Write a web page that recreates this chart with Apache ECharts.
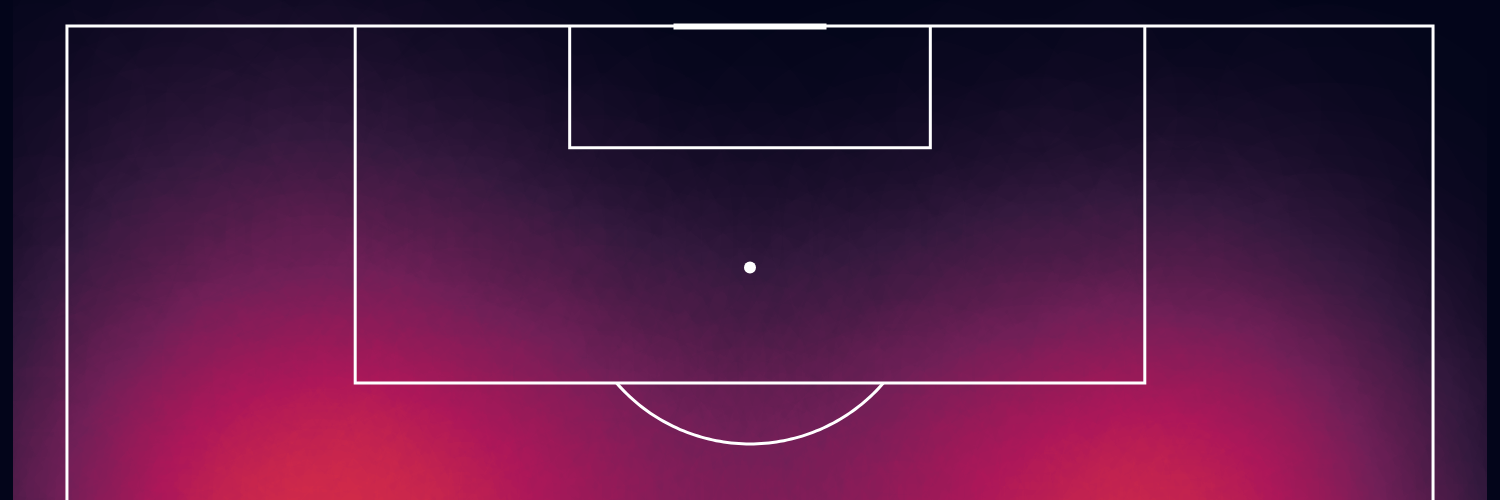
<!DOCTYPE html>
<html>
<head>
<meta charset="utf-8">
<script src="https://cdn.jsdelivr.net/npm/echarts@6/dist/echarts.min.js"></script>
<style>
html,body{margin:0;padding:0;background:#03051a;}
#c{width:1500px;height:500px;}
</style>
</head>
<body>
<div id="c"></div>
<script>
// Pitch coordinates: x across the pitch width (0-100), d = depth from the goal line (Opta-like units)
const colsX = [-2, 8, 18.5, 29, 39, 50, 61, 71, 81.5, 92, 102];
const rowsD = [-2, 4, 10, 16.5, 22.5, 28.5];
// estimated touch density (rows follow rowsD, columns follow colsX)
const density = [
  [0.02, 0.05, 0.05, 0.03, 0.00, 0.00, 0.00, 0.01, 0.02, 0.01, 0.00],
  [0.05, 0.15, 0.15, 0.10, 0.04, 0.00, 0.03, 0.06, 0.07, 0.05, 0.01],
  [0.10, 0.32, 0.32, 0.26, 0.19, 0.13, 0.16, 0.20, 0.21, 0.15, 0.02],
  [0.13, 0.43, 0.50, 0.41, 0.31, 0.25, 0.30, 0.36, 0.44, 0.34, 0.04],
  [0.20, 0.84, 1.10, 0.82, 0.52, 0.40, 0.52, 0.78, 1.12, 0.62, 0.07],
  [0.22, 0.92, 1.20, 0.86, 0.55, 0.42, 0.56, 0.84, 1.20, 0.66, 0.07]
];
const rocket = ['#03051a', '#35193e', '#701f57', '#ad1759', '#e13342', '#f37651', '#f6b48f', '#faebdd'];

// pitch markings (Opta-like units)
const outerLine = [[0, 40], [0, 0], [100, 0], [100, 40]];
const penaltyBox = [[21.1, 0], [21.1, 17], [78.9, 17], [78.9, 0]];
const sixYardBox = [[36.8, 0], [36.8, 5.8], [63.2, 5.8], [63.2, 0]];
const goalMouth = [[44.4, 0.02], [55.6, 0.02]];
const penaltySpot = [50, 11.5];
const arcRadius = [12.92, 8.40];
const boxDepth = 17;

const toGeo = p => [p[0], -p[1]];

const heatData = [];
rowsD.forEach((d, i) => {
  colsX.forEach((x, j) => {
    heatData.push([x, -d, density[i][j]]);
  });
});

const arcPts = [];
const t0 = Math.asin((boxDepth - penaltySpot[1]) / arcRadius[1]);
for (let k = 0; k <= 80; k++) {
  const t = t0 + (Math.PI - 2 * t0) * k / 80;
  arcPts.push([penaltySpot[0] + arcRadius[0] * Math.cos(t), penaltySpot[1] + arcRadius[1] * Math.sin(t)]);
}

echarts.registerMap('pitch', {
  type: 'FeatureCollection',
  features: [{
    type: 'Feature',
    properties: { name: 'pitch' },
    geometry: {
      type: 'Polygon',
      coordinates: [[[-3.95, 1.24], [103.95, 1.24], [103.95, -22.57], [-3.95, -22.57], [-3.95, 1.24]]]
    }
  }]
});

const chart = echarts.init(document.getElementById('c'));
const lineWhite = { color: '#ffffff', width: 3, opacity: 1 };
chart.setOption({
  backgroundColor: '#03051a',
  animation: false,
  geo: {
    map: 'pitch',
    roam: false,
    left: 13, top: 0, width: 1474, height: 500,
    silent: true,
    label: { show: false },
    itemStyle: { areaColor: 'rgba(0,0,0,0)', borderColor: 'rgba(0,0,0,0)', borderWidth: 0 },
    emphasis: { disabled: true },
    select: { disabled: true }
  },
  visualMap: {
    type: 'continuous',
    show: false,
    min: 0,
    max: 3.26,
    seriesIndex: 0,
    inRange: { color: rocket }
  },
  series: [
    {
      type: 'heatmap',
      coordinateSystem: 'geo',
      pointSize: 150,
      blurSize: 270,
      minOpacity: 1,
      maxOpacity: 1,
      silent: true,
      data: heatData
    },
    {
      type: 'lines',
      coordinateSystem: 'geo',
      polyline: true,
      silent: true,
      z: 5,
      lineStyle: lineWhite,
      data: [
        { coords: outerLine.map(toGeo) },
        { coords: penaltyBox.map(toGeo) },
        { coords: sixYardBox.map(toGeo) },
        { coords: arcPts.map(toGeo) },
        { coords: goalMouth.map(toGeo), lineStyle: { color: '#ffffff', width: 6 } }
      ]
    },
    {
      type: 'scatter',
      coordinateSystem: 'geo',
      silent: true,
      z: 6,
      symbol: 'circle',
      symbolSize: 12,
      itemStyle: { color: '#ffffff', opacity: 1 },
      data: [toGeo(penaltySpot)]
    }
  ]
});
</script>
</body>
</html>
